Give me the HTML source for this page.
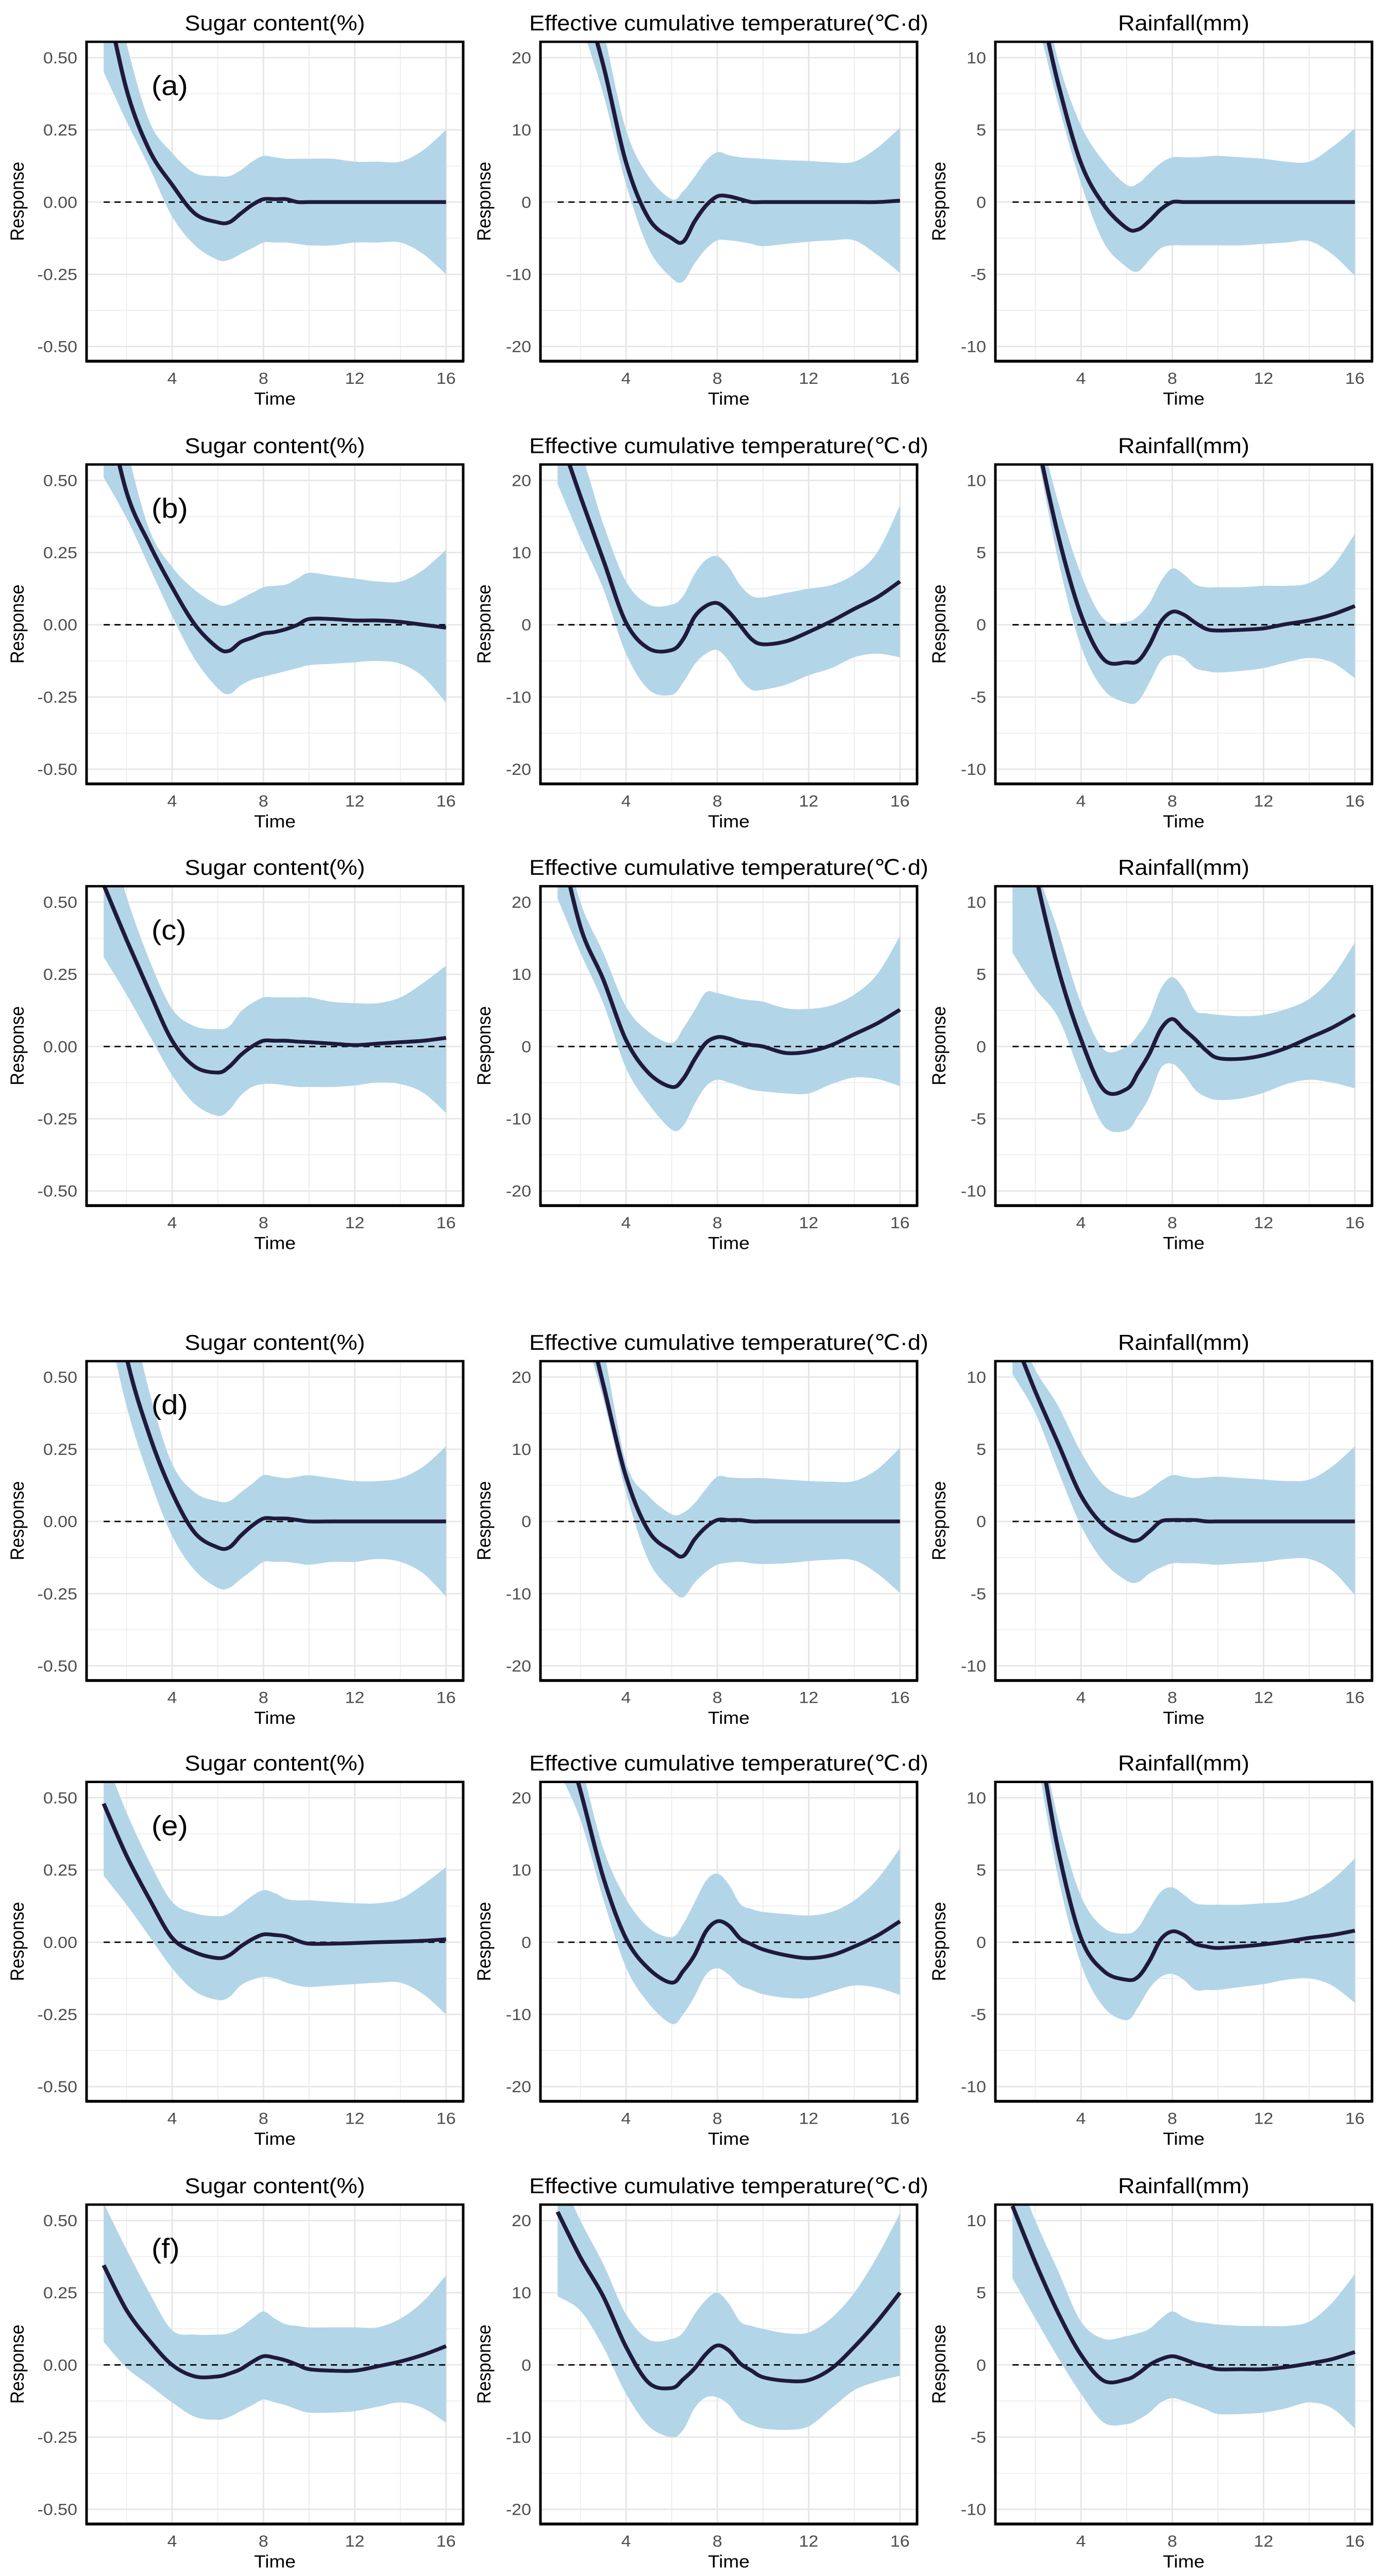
<!DOCTYPE html>
<html><head><meta charset="utf-8">
<style>
html,body{margin:0;padding:0;background:#fff;width:100%;height:100%;overflow:hidden;}
svg{display:block;position:absolute;left:0;top:0;width:100vw;height:100vh;font-family:"Liberation Sans",Arial,sans-serif;}
</style></head>
<body>
<svg id="fig" viewBox="0 0 2696 5424" preserveAspectRatio="none" xmlns="http://www.w3.org/2000/svg"></svg>
<script>
const T = [1,2,3,4,5,6,6.5,7,7.5,8,8.5,9,9.5,10,11,12,13,14,15,16];
const xTicks = [4,8,12,16];
const panelLabels = ['(a)','(b)','(c)','(d)','(e)','(f)'];
const varTitles = ['Sugar content(%)','Effective cumulative temperature(\u2103\u00b7d)','Rainfall(mm)'];
const sugarTicks = [-0.5,-0.25,0,0.25,0.5];
const sugarTickLabels = ['-0.50','-0.25','0.00','0.25','0.50'];
const tempTicks = [-20,-10,0,10,20];
const tempTickLabels = ['-20','-10','0','10','20'];
const rainTicks = [-10,-5,0,5,10];
const rainTickLabels = ['-10','-5','0','5','10'];

// Sugar content
const sugarA_line=[0.75,0.39,0.18,0.06,-0.04,-0.07,-0.07,-0.04,-0.01,0.01,0.01,0.01,0.0,0,0,0,0,0,0,0];
const sugarA_up=[0.9,0.55,0.28,0.17,0.1,0.09,0.09,0.11,0.14,0.16,0.155,0.15,0.15,0.15,0.15,0.14,0.14,0.14,0.18,0.25];
const sugarA_lo=[0.45,0.28,0.12,-0.05,-0.15,-0.2,-0.2,-0.18,-0.16,-0.14,-0.14,-0.14,-0.145,-0.15,-0.15,-0.14,-0.14,-0.14,-0.18,-0.25];
const sugarB_line=[0.8,0.46,0.28,0.13,0.0,-0.08,-0.09,-0.06,-0.045,-0.03,-0.025,-0.015,0.0,0.02,0.02,0.015,0.015,0.01,0.0,-0.01];
const sugarB_up=[1.0,0.62,0.33,0.2,0.12,0.07,0.07,0.09,0.11,0.13,0.135,0.14,0.16,0.18,0.17,0.16,0.15,0.15,0.19,0.26];
const sugarB_lo=[0.51,0.37,0.2,0.03,-0.12,-0.22,-0.24,-0.21,-0.19,-0.18,-0.17,-0.16,-0.15,-0.14,-0.135,-0.13,-0.125,-0.135,-0.18,-0.27];
const sugarC_line=[0.56,0.37,0.19,0.02,-0.07,-0.09,-0.07,-0.03,0.0,0.02,0.02,0.02,0.017,0.015,0.01,0.005,0.01,0.015,0.02,0.03];
const sugarC_up=[0.8,0.52,0.3,0.13,0.07,0.06,0.07,0.12,0.15,0.17,0.17,0.17,0.17,0.17,0.155,0.15,0.15,0.17,0.22,0.28];
const sugarC_lo=[0.31,0.18,0.04,-0.1,-0.2,-0.24,-0.22,-0.17,-0.14,-0.13,-0.13,-0.135,-0.14,-0.14,-0.14,-0.135,-0.125,-0.13,-0.16,-0.23];
const sugarD_line=[1.0,0.57,0.3,0.1,-0.04,-0.09,-0.09,-0.05,-0.015,0.01,0.01,0.01,0.005,0,0,0,0,0,0,0];
const sugarD_up=[1.2,0.8,0.45,0.2,0.1,0.07,0.07,0.1,0.13,0.16,0.155,0.15,0.155,0.16,0.15,0.14,0.14,0.15,0.19,0.26];
const sugarD_lo=[0.75,0.4,0.15,-0.05,-0.17,-0.23,-0.23,-0.2,-0.17,-0.14,-0.14,-0.14,-0.145,-0.15,-0.14,-0.14,-0.13,-0.14,-0.18,-0.26];
const sugarE_line=[0.48,0.30,0.15,0.015,-0.035,-0.055,-0.045,-0.015,0.01,0.027,0.025,0.02,0.005,-0.005,-0.005,-0.003,0,0.002,0.005,0.01];
const sugarE_up=[0.65,0.45,0.28,0.14,0.1,0.09,0.1,0.13,0.16,0.18,0.17,0.15,0.145,0.145,0.14,0.135,0.135,0.15,0.2,0.26];
const sugarE_lo=[0.23,0.13,0.02,-0.09,-0.17,-0.2,-0.19,-0.15,-0.13,-0.12,-0.125,-0.14,-0.15,-0.155,-0.15,-0.145,-0.14,-0.14,-0.18,-0.25];
const sugarF_line=[0.345,0.19,0.085,0.0,-0.04,-0.04,-0.03,-0.015,0.01,0.03,0.025,0.015,0.0,-0.015,-0.02,-0.02,-0.005,0.012,0.035,0.065];
const sugarF_up=[0.56,0.4,0.25,0.12,0.105,0.105,0.11,0.13,0.16,0.185,0.16,0.14,0.135,0.13,0.13,0.13,0.13,0.16,0.22,0.31];
const sugarF_lo=[0.08,-0.01,-0.07,-0.13,-0.18,-0.19,-0.18,-0.16,-0.14,-0.12,-0.13,-0.14,-0.155,-0.165,-0.165,-0.16,-0.145,-0.13,-0.15,-0.2];
// Effective cumulative temperature
const tempA_line=[40,30,19,5.5,-2.3,-5,-5.5,-2.7,-0.5,0.8,0.8,0.4,0,0,0,0,0,0,0,0.2];
const tempA_up=[48,38,24,10,3.5,0.4,1.5,3.5,5.7,6.9,6.5,6.2,6.1,6.0,5.8,5.7,5.5,5.6,7.5,10.3];
const tempA_lo=[35,25,15,2.5,-6.5,-10.5,-11,-8.5,-6.5,-5.3,-5.3,-5.5,-5.8,-6.1,-5.8,-5.5,-5.3,-5.3,-7.3,-9.8];
const tempB_line=[27,17.8,9,0.3,-3.3,-3.5,-2.0,1.1,2.6,3.0,1.8,-0.1,-2.0,-2.7,-2.3,-1.0,0.5,2.2,3.8,6.0];
const tempB_up=[30,24,14,6,2.8,2.8,4,7,9,9.5,8,5.5,4,3.8,4.4,5,5.5,7,10,16.5];
const tempB_lo=[19.5,12,5,-4,-9,-9.7,-8,-5.5,-4,-3.5,-5,-7.5,-9,-9,-8.3,-7,-6,-4.5,-4,-4.5];
const tempC_line=[30,16.6,9.3,0.9,-3.7,-5.6,-4.5,-1.8,0.5,1.3,1.1,0.5,0.2,0,-0.9,-0.7,0.2,1.7,3.2,5.1];
const tempC_up=[32,20,13,5.5,2,0.5,2.5,5,7.5,7.4,7,6.6,6.4,6.2,5.3,5.2,5.7,7.2,10,15.3];
const tempC_lo=[20.5,13,6,-3,-8,-11.5,-11,-8,-5.5,-4.6,-5,-5.5,-6,-6.2,-6.5,-6.5,-5.2,-4.3,-4.5,-5.5];
const tempD_line=[45,32,19,6.2,-1.4,-4.1,-4.8,-2.5,-0.8,0.2,0.2,0.2,0,0,0,0,0,0,0,0];
const tempD_up=[50,36,24,8.1,3.5,1,1.2,2.5,4.5,6.2,6.1,6.0,6.0,6.0,5.8,5.6,5.5,5.6,7.2,10.2];
const tempD_lo=[40,28,17,4,-5.5,-9.5,-10.5,-8.5,-7,-6,-5.7,-5.6,-5.8,-5.9,-5.8,-5.5,-5.3,-5.4,-7.2,-9.9];
const tempE_line=[32,21,9,0.5,-3.7,-5.6,-4,-1.8,1.5,2.9,2.3,0.5,-0.3,-1.0,-1.8,-2.2,-1.8,-0.6,0.9,2.9];
const tempE_up=[36,25,13,6,2,0.7,2.5,5.5,8.5,9.5,8,5.3,4.6,4.2,3.9,3.7,4.2,5.8,8.7,13];
const tempE_lo=[24,17,6,-3.5,-8.5,-11.3,-10,-7.5,-4.5,-3.6,-4.5,-6,-6.6,-7.2,-7.7,-7.7,-6.8,-6.0,-6.3,-7.3];
const tempF_line=[21.2,14.9,9.5,2.5,-2.5,-3.2,-2,-0.5,1.5,2.7,2.0,0.2,-0.8,-1.7,-2.2,-2.1,-0.5,2.5,6.0,10.0];
const tempF_up=[27,20,14,7,3.5,3.6,4.5,7,9,10,8.5,6,5.4,5,4.4,4.5,6.5,10,15,21];
const tempF_lo=[9.5,7.5,2.5,-4,-8.5,-10,-9,-6,-4.5,-4.5,-5.5,-7.5,-8.3,-8.8,-9,-8.5,-6,-3.5,-2.3,-1.5];
// Rainfall
const rainA_line=[20,15,8.2,2.7,-0.2,-1.8,-1.9,-1.3,-0.5,0,0,0,0,0,0,0,0,0,0,0];
const rainA_up=[22,17,9.8,5.3,2.8,1.2,1.3,2.0,2.7,3.1,3.1,3.1,3.15,3.2,3.1,3.0,2.8,2.8,3.8,5.1];
const rainA_lo=[18,13,6.8,1.3,-2.8,-4.5,-4.8,-4.0,-3.2,-3.0,-3.0,-3.0,-3.0,-3.0,-3.0,-2.9,-2.8,-2.7,-3.6,-5.1];
const rainB_line=[22,13.5,6.2,0.7,-2.4,-2.6,-2.5,-1.4,0.2,0.9,0.7,0.15,-0.3,-0.4,-0.35,-0.25,0.05,0.3,0.7,1.3];
const rainB_up=[24,15,8.5,3.5,0.4,0.2,0.6,1.5,3,3.9,3.5,2.8,2.6,2.6,2.6,2.7,2.7,2.9,4,6.3];
const rainB_lo=[20,12.5,4.5,-1.5,-4.5,-5.4,-5.3,-4,-2.5,-2.1,-2.3,-3.0,-3.2,-3.3,-3.2,-3.0,-2.6,-2.3,-2.6,-3.7];
const rainC_line=[20,12,5.4,0.5,-3.0,-2.95,-1.8,-0.5,1.2,1.9,1.2,0.5,-0.3,-0.8,-0.85,-0.6,-0.1,0.6,1.3,2.2];
const rainC_up=[22,13,8,3,-0.2,0,0.8,2.0,4,4.8,4,2.5,2.3,2.2,2.1,2.2,2.6,3.3,4.8,7.2];
const rainC_lo=[6.5,4,2,-2,-5.5,-5.8,-4.8,-3.5,-1.5,-1.2,-1.9,-3.0,-3.5,-3.7,-3.6,-3.2,-2.6,-2.3,-2.5,-2.9];
const rainD_line=[13,9.0,5.4,1.8,-0.3,-1.2,-1.3,-0.7,0,0.1,0.1,0.1,0,0,0,0,0,0,0,0];
const rainD_up=[14,10.5,8.0,4.8,2.5,1.7,1.75,2.2,2.8,3.2,3.1,3.0,3.05,3.1,3.0,2.9,2.8,2.9,3.8,5.2];
const rainD_lo=[10.2,7.5,3.5,-0.3,-2.8,-4.1,-4.2,-3.6,-3.2,-2.9,-2.9,-2.9,-2.95,-3.0,-2.9,-2.8,-2.6,-2.6,-3.4,-5.1];
const rainE_line=[20,15,6.4,0.3,-2.0,-2.6,-2.4,-1.3,0.2,0.75,0.5,-0.1,-0.3,-0.4,-0.3,-0.15,0.05,0.3,0.5,0.8];
const rainE_up=[22,16,8.5,3.2,1.0,0.6,1.0,2.3,3.5,3.8,3.3,2.7,2.6,2.6,2.6,2.7,2.8,3.3,4.3,5.8];
const rainE_lo=[18,13,4.5,-1.5,-4.5,-5.4,-4.5,-3.2,-2.4,-2.2,-2.6,-3.3,-3.3,-3.3,-3.1,-2.9,-2.6,-2.5,-3.0,-4.2];
const rainF_line=[11,7.1,3.6,0.7,-1.1,-1.0,-0.6,0,0.4,0.6,0.4,0.1,-0.1,-0.3,-0.3,-0.3,-0.15,0.1,0.4,0.9];
const rainF_up=[14,10,6.5,3,1.8,2.0,2.2,2.5,3.2,3.7,3.3,3.0,2.9,2.8,2.7,2.7,2.7,3.0,4.3,6.3];
const rainF_lo=[6,3.2,0.5,-2.0,-4.0,-4.1,-3.8,-3.3,-2.6,-2.3,-2.5,-2.8,-3.1,-3.4,-3.4,-3.3,-3.0,-2.6,-3.0,-4.4];

const rows = [
 [[sugarA_line,sugarA_up,sugarA_lo],[tempA_line,tempA_up,tempA_lo],[rainA_line,rainA_up,rainA_lo]],
 [[sugarB_line,sugarB_up,sugarB_lo],[tempB_line,tempB_up,tempB_lo],[rainB_line,rainB_up,rainB_lo]],
 [[sugarC_line,sugarC_up,sugarC_lo],[tempC_line,tempC_up,tempC_lo],[rainC_line,rainC_up,rainC_lo]],
 [[sugarD_line,sugarD_up,sugarD_lo],[tempD_line,tempD_up,tempD_lo],[rainD_line,rainD_up,rainD_lo]],
 [[sugarE_line,sugarE_up,sugarE_lo],[tempE_line,tempE_up,tempE_lo],[rainE_line,rainE_up,rainE_lo]],
 [[sugarF_line,sugarF_up,sugarF_lo],[tempF_line,tempF_up,tempF_lo],[rainF_line,rainF_up,rainF_lo]]
];

const NS='http://www.w3.org/2000/svg';
const svg=document.getElementById('fig');
function mk(tag,attrs,parent){const e=document.createElementNS(NS,tag);for(const k in attrs)e.setAttribute(k,attrs[k]);(parent||svg).appendChild(e);return e;}

const rowTops=[88,978,1866,2866,3752,4642];
const colLefts=[168,1049,1932];
const W=731,H=672;
const yDomains=[[-0.55,0.555],[-22,22.2],[-11,11.1]];
const yTickSets=[sugarTicks,tempTicks,rainTicks];
const yTickLabelSets=[sugarTickLabels,tempTickLabels,rainTickLabels];
const varKeys=['sugar','temperature','rainfall'];
const yTitleOffsets=[122,97,97];

function smoothPath(pts,move){
  let d=move?`M${pts[0][0].toFixed(1)},${pts[0][1].toFixed(1)}`:`L${pts[0][0].toFixed(1)},${pts[0][1].toFixed(1)}`;
  for(let i=0;i<pts.length-1;i++){
    const p0=pts[Math.max(i-1,0)],p1=pts[i],p2=pts[i+1],p3=pts[Math.min(i+2,pts.length-1)];
    const c1=[p1[0]+(p2[0]-p0[0])/6,p1[1]+(p2[1]-p0[1])/6];
    const c2=[p2[0]-(p3[0]-p1[0])/6,p2[1]-(p3[1]-p1[1])/6];
    d+=`C${c1[0].toFixed(1)},${c1[1].toFixed(1)} ${c2[0].toFixed(1)},${c2[1].toFixed(1)} ${p2[0].toFixed(1)},${p2[1].toFixed(1)}`;
  }
  return d;
}

rows.forEach((row,r)=>{
  row.forEach((series,c)=>{
    const L=colLefts[c],Tp=rowTops[r];
    const [y0,y1]=yDomains[c];
    const xs=v=>L+(v-0.25)/(16.5)*W;
    const ys=v=>Tp+H-(v-y0)/(y1-y0)*H;
    const g=mk('g',{});
    
    
    const tt=mk('text',{x:L+W/2,y:Tp-24,'text-anchor':'middle','font-size':45,fill:'#000'},g);
    tt.textContent=varTitles[c];
    
    
    const cid=`clip${r}${c}`;
    const cp=mk('clipPath',{id:cid},g);mk('rect',{x:L,y:Tp,width:W,height:H},cp);
    const grid=mk('g',{},g);
    
    
    [2,6,10,14].forEach(v=>mk('line',{x1:xs(v),x2:xs(v),y1:Tp,y2:Tp+H,stroke:'#eeeeee','stroke-width':2},grid));
    const yt=yTickSets[c];
    for(let i=0;i<yt.length-1;i++){const m=(yt[i]+yt[i+1])/2;mk('line',{x1:L,x2:L+W,y1:ys(m),y2:ys(m),stroke:'#eeeeee','stroke-width':2},grid);}
    xTicks.forEach(v=>mk('line',{x1:xs(v),x2:xs(v),y1:Tp,y2:Tp+H,stroke:'#e6e6e6','stroke-width':3},grid));
    yt.forEach(v=>mk('line',{x1:L,x2:L+W,y1:ys(v),y2:ys(v),stroke:'#e6e6e6','stroke-width':3},grid));
    const [ln,up,lo]=series;
    const upPts=T.map((t,i)=>[xs(t),ys(up[i])]);
    const loPts=T.map((t,i)=>[xs(t),ys(lo[i])]).reverse();
    const band=mk('path',{d:smoothPath(upPts,true)+smoothPath(loPts,false)+'Z',fill:'#b3d5e8','clip-path':`url(#${cid})`},g);
    
    
    const z=mk('line',{x1:xs(1),x2:xs(16),y1:ys(0),y2:ys(0),stroke:'#000','stroke-width':3,'stroke-dasharray':'12,9'},g);
    
    
    const lp=mk('path',{d:smoothPath(T.map((t,i)=>[xs(t),ys(ln[i])]),true),fill:'none',stroke:'#1f1a3c','stroke-width':8,'stroke-linejoin':'round','clip-path':`url(#${cid})`},g);
    
    
    const b=mk('rect',{x:L,y:Tp,width:W,height:H,fill:'none',stroke:'#000','stroke-width':5},g);
    
    
    mk('line',{x1:L-2,x2:L+W+2,y1:Tp+H+1,y2:Tp+H+1,stroke:'#000','stroke-width':5},g);
    yt.forEach((v,i)=>{
      const t=mk('text',{x:L-18,y:ys(v)+12,'text-anchor':'end','font-size':34,fill:'#4d4d4d'},g);
      t.textContent=yTickLabelSets[c][i];
      
      
    });
    xTicks.forEach(v=>{
      const t=mk('text',{x:xs(v),y:Tp+H+48,'text-anchor':'middle','font-size':34,fill:'#4d4d4d'},g);
      t.textContent=String(v);
      
      
    });
    const xt=mk('text',{x:L+W/2,y:Tp+H+92,'text-anchor':'middle','font-size':37,fill:'#000'},g);
    xt.textContent='Time';
    
    
    const yx=L-yTitleOffsets[c], yy=Tp+H/2;
    const ytl=mk('text',{x:yx,y:yy,'text-anchor':'middle','font-size':37,fill:'#000',transform:`rotate(-90 ${yx} ${yy})`},g);
    ytl.textContent='Response';
    
    
    if(c===0){
      const pl=mk('text',{x:L+126,y:Tp+112,'font-size':58,fill:'#000'},g);
      pl.textContent=panelLabels[r];
      
      
    }
  });
});
</script>
</body></html>
